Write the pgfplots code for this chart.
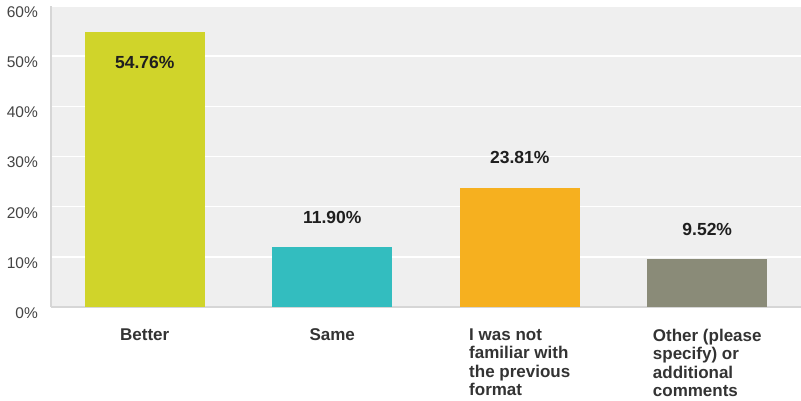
\documentclass[border=0pt]{standalone}
\usepackage{pgfplots}
\pgfplotsset{compat=1.18}
\usepackage{fontspec}
\setmainfont{Liberation Sans}
\definecolor{bgc}{HTML}{EFEFEF}
\definecolor{axc}{HTML}{D6D6D6}
\definecolor{cA}{HTML}{D0D42A}
\definecolor{cB}{HTML}{33BDBF}
\definecolor{cC}{HTML}{F6B01F}
\definecolor{cD}{HTML}{8A8B78}
\definecolor{txt}{HTML}{333333}
\definecolor{tick}{HTML}{444444}
\begin{document}
\begin{tikzpicture}
\useasboundingbox (0,0) rectangle (801bp,401bp);
\begin{axis}[
  at={(51bp,94bp)}, anchor=south west,
  scale only axis, width=750bp, height=301bp,
  xmin=-0.5, xmax=3.5, ymin=0, ymax=60,
  ytick={0,10,20,30,40,50,60},
  yticklabels={0\%,10\%,20\%,30\%,40\%,50\%,\raisebox{-4bp}{60\%}},
  xtick={0,1,2,3},
  xticklabels={Better,Same,I was not\\familiar with\\the previous\\format,Other (please\\specify) or\\additional\\comments},
  axis x line=bottom, axis y line=left,
  axis line style={-, axc, line width=2bp},
  major tick length=0pt,
  ymajorgrids, grid style={white, line width=1.5bp},
  axis background/.style={fill=bgc},
  yticklabel style={font=\fontsize{15.5bp}{18bp}\selectfont, text=tick, anchor=east, inner sep=0pt, xshift=-13bp, yshift=-6bp},
  xticklabel style={font=\fontsize{17bp}{18.5bp}\selectfont\bfseries, text=txt, align=left, anchor=north, inner sep=0pt, yshift=-21.5bp},
  ybar, bar width=120bp, bar shift=0pt,
  point meta=explicit symbolic,
  nodes near coords={\pgfplotspointmeta\%},
  every node near coord/.append style={font=\fontsize{17.5bp}{20bp}\selectfont\bfseries, text=black!88, anchor=center},
  axis on top=false,
]
\addplot[fill=cA, draw=none, every node near coord/.append style={yshift=-30bp}] coordinates {(0,54.76) [54.76]};
\addplot[fill=cB, draw=none, every node near coord/.append style={yshift=30bp}] coordinates {(1,11.90) [11.90]};
\addplot[fill=cC, draw=none, every node near coord/.append style={yshift=30bp}] coordinates {(2,23.81) [23.81]};
\addplot[fill=cD, draw=none, every node near coord/.append style={yshift=30bp}] coordinates {(3,9.52) [9.52]};
\end{axis}
\end{tikzpicture}
\end{document}
